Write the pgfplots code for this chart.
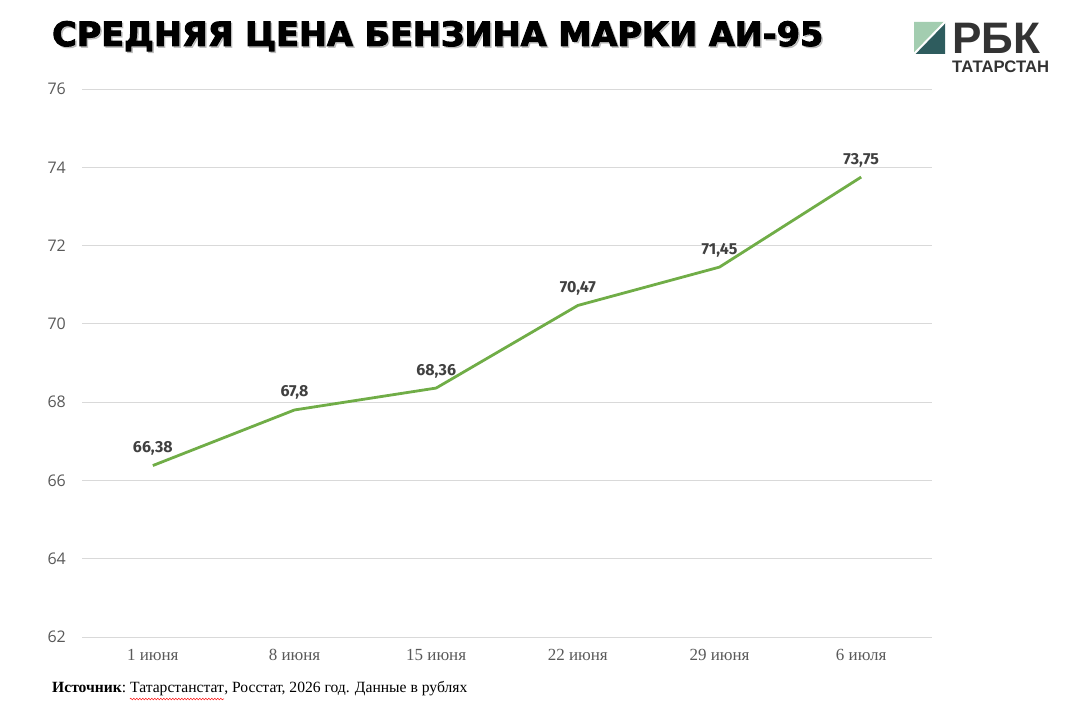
\documentclass[border=0pt]{standalone}
\usepackage{pgfplots}
\pgfplotsset{compat=1.18}
\usepackage{fontspec}
\usepackage{graphicx}
\usetikzlibrary{decorations.pathmorphing}
\setmainfont{Liberation Serif}
\newfontfamily\opensans{Open Sans}
\newfontfamily\fira{Fira Sans}
\newfontfamily\titlefont{DejaVu Sans}[BoldFeatures={FakeBold=3}]
\newfontfamily\logofont{Liberation Sans}
\definecolor{linegreen}{HTML}{70AD47}
\definecolor{gridgray}{HTML}{D9D9D9}
\definecolor{tickgray}{HTML}{595959}
\definecolor{labelgray}{HTML}{404040}
\definecolor{logolight}{HTML}{A3CDB0}
\definecolor{logodark}{HTML}{2E5C5E}
\definecolor{logotext}{HTML}{333333}
\begin{document}
\begin{tikzpicture}[x=1pt,y=1pt]
\path[use as bounding box] (-82,-80) rectangle (994,637);
\begin{axis}[
  at={(0,0)}, anchor=south west,
  scale only axis, width=850pt, height=548pt,
  xmin=-0.5, xmax=5.5, ymin=62, ymax=76,
  ytick={62,64,66,68,70,72,74,76},
  xtick=data,
  xticklabels={1 июня,8 июня,15 июня,22 июня,29 июня,6 июля},
  ymajorgrids, grid style={gridgray, line width=0.8pt},
  axis line style={draw=none}, major tick length=0pt, tick style={draw=none},
  /pgf/number format/assume math mode=true,
  yticklabel style={font=\opensans\fontsize{16}{18}\selectfont, text=tickgray, inner sep=0pt, anchor=east, xshift=-16pt},
  xticklabel style={font=\fontsize{17}{19}\selectfont, text=tickgray, inner sep=0pt, anchor=base, yshift=-24pt},
  nodes near coords,
  every node near coord/.append style={font=\fira\bfseries\fontsize{16}{18}\selectfont, text=labelgray, anchor=base, inner sep=0pt, yshift=13pt},
  /pgf/number format/use comma,
  clip=false,
]
\addplot[linegreen, line width=2.8pt, line join=round] coordinates {
  (0,66.38) (1,67.8) (2,68.36) (3,70.47) (4,71.45) (5,73.75)
};
\end{axis}
% title
\node[anchor=base west, inner sep=0pt, text=black!35, opacity=0.6] at (-28.5,589.5) {\resizebox{771pt}{!}{\titlefont\bfseries СРЕДНЯЯ ЦЕНА БЕНЗИНА МАРКИ АИ-95}};
\node[anchor=base west, inner sep=0pt] at (-30,591) {\resizebox{771pt}{!}{\titlefont\bfseries СРЕДНЯЯ ЦЕНА БЕНЗИНА МАРКИ АИ-95}};
% logo
\fill[logolight] (832,615) -- (863,615) -- (832,583) -- cycle;
\fill[logodark] (863,615) -- (863,583) -- (832,583) -- cycle;
\draw[white, line width=2pt] (864,616) -- (831,582);
\node[anchor=base west, inner sep=0pt, text=logotext] at (870,583) {\resizebox{88pt}{!}{\logofont\bfseries РБК}};
\node[anchor=base west, inner sep=0pt, text=logotext] at (870,564) {\resizebox{97pt}{!}{\logofont\bfseries ТАТАРСТАН}};
% source
\node[anchor=base west, inner sep=0pt] (s1) at (-30,-56) {\fontsize{15.6}{18}\selectfont\textbf{Источник}:};
\node[anchor=base west, inner sep=0pt] (s2) at ([xshift=3.5pt]s1.base east) {\fontsize{15.6}{18}\selectfont Татарстанстат};
\node[anchor=base west, inner sep=0pt] (s3) at (s2.base east) {\fontsize{15.6}{18}\selectfont , Росстат, 2026 год. Данные в рублях};
\draw[red, line width=0.5pt, decorate, decoration={snake, amplitude=0.8pt, segment length=3pt}] ([yshift=-6pt]s2.base west) -- ([yshift=-6pt]s2.base east);
\end{tikzpicture}
\end{document}
